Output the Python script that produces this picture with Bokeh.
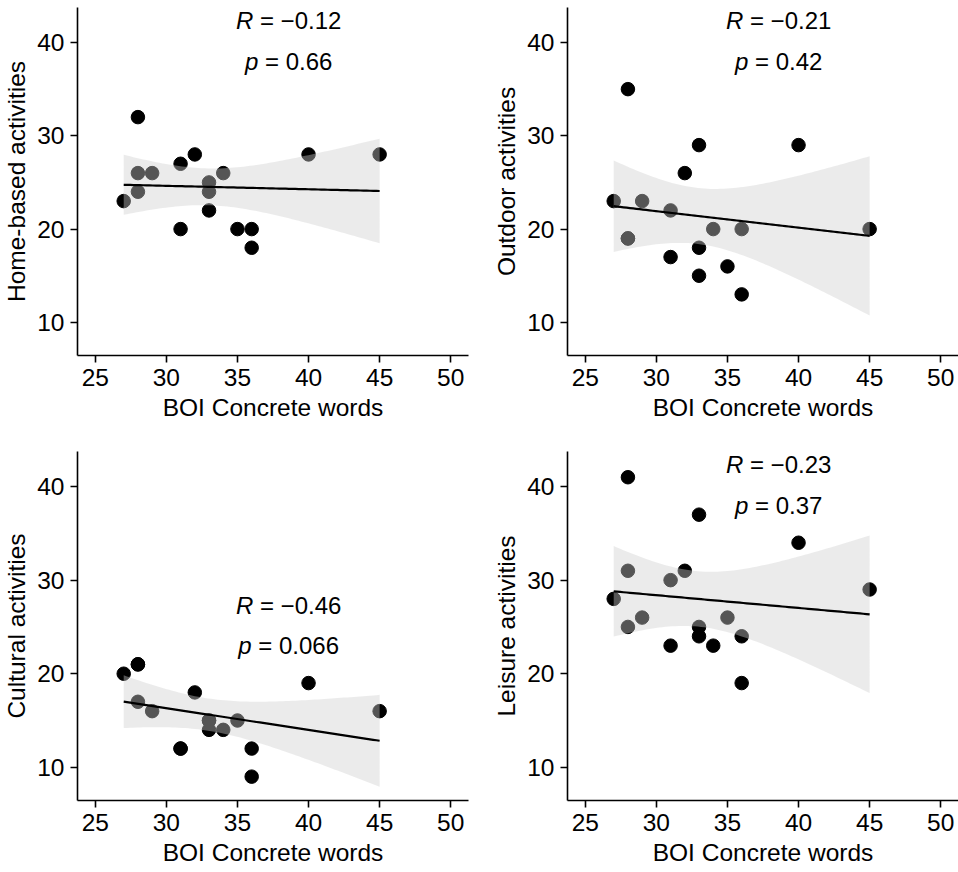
import numpy as np
from bokeh.plotting import figure
from bokeh.layouts import gridplot
from bokeh.models import Range1d, FixedTicker
from bokeh.core.properties import value
from bokeh.embed import file_html
from bokeh.resources import INLINE

# BOI concrete-word score of each participant (shared x for all panels)
boi_concrete = [27, 28, 28, 28, 29, 31, 31, 32, 33, 33, 33, 34, 35, 36, 36, 40, 45]

# Activity scores per participant
home_based = [23, 32, 26, 24, 26, 27, 20, 28, 25, 24, 22, 26, 20, 20, 18, 28, 28]
outdoor = [23, 35, 19, 19, 23, 22, 17, 26, 29, 18, 15, 20, 16, 20, 13, 29, 20]
cultural = [20, 21, 21, 17, 16, 12, 12, 18, 15, 15, 14, 14, 15, 12, 9, 19, 16]
leisure = [28, 41, 31, 25, 26, 30, 23, 31, 37, 25, 24, 23, 26, 24, 19, 34, 29]

panel_titles = ["Home-based activities", "Outdoor activities",
                "Cultural activities", "Leisure activities"]
r_values = ["\u22120.12", "\u22120.21", "\u22120.46", "\u22120.23"]
p_values = ["0.66", "0.42", "0.066", "0.37"]

x_ticks = [25, 30, 35, 40, 45, 50]
y_ticks = [10, 20, 30, 40]

FONT = "Liberation Sans"
AXIS_FS = 24.5
STAT_FS = 24
NBSP = "\u00a0"
T_975_DF15 = 2.13145  # two-sided 95% t quantile, 15 degrees of freedom

# Arial advance widths (em) for the characters used in the stat labels
ADV = {"R": 0.722, "p": 0.556, " ": 0.278, NBSP: 0.278, "=": 0.584,
       "\u2212": 0.584, ".": 0.278}


def text_width(s):
    return sum(ADV.get(c, 0.556) for c in s) * STAT_FS


def fit_band(x, y, n=80):
    x = np.asarray(x, float)
    y = np.asarray(y, float)
    slope, intercept = np.polyfit(x, y, 1)
    xs = np.linspace(x.min(), x.max(), n)
    fitted = intercept + slope * xs
    resid = y - (intercept + slope * x)
    dof = len(x) - 2
    s = np.sqrt(np.sum(resid ** 2) / dof)
    se = s * np.sqrt(1 / len(x) + (xs - x.mean()) ** 2 / np.sum((x - x.mean()) ** 2))
    return xs, fitted, fitted - T_975_DF15 * se, fitted + T_975_DF15 * se


def stat_label(p, x, y, sym, rest):
    # italic symbol followed by the upright remainder, centred as a whole on x
    rest = NBSP + "=" + NBSP + rest
    w_sym = text_width(sym)
    w_all = w_sym + text_width(rest)
    split = -w_all / 2 + w_sym
    common = dict(text_font=value(FONT), text_font_size=f"{STAT_FS}px",
                  text_color="black", text_baseline="middle", x_offset=split)
    p.text(x=[x], y=[y], text=[sym], text_align="right",
           text_font_style="italic", **common)
    p.text(x=[x], y=[y], text=[rest], text_align="left", **common)


def make_panel(yvals, ylabel, r_txt, p_txt, label_y, left, right, top, bottom):
    p = figure(width=479, height=436, output_backend="svg", toolbar_location=None,
               x_range=Range1d(23.75, 51.25), y_range=Range1d(6.45, 43.75),
               min_border_left=left, min_border_right=right,
               min_border_top=top, min_border_bottom=bottom,
               background_fill_color="white", border_fill_color="white")
    p.outline_line_color = None
    p.grid.visible = False

    for ax in (p.xaxis[0], p.yaxis[0]):
        ax.axis_line_color = "black"
        ax.axis_line_width = 1.6
        ax.major_tick_line_color = "black"
        ax.major_tick_line_width = 1.6
        ax.major_tick_out = 7
        ax.major_tick_in = 0
        ax.minor_tick_line_color = None
        ax.major_label_text_font = FONT
        ax.major_label_text_font_size = f"{AXIS_FS}px"
        ax.major_label_text_color = "black"
        ax.axis_label_text_font = FONT
        ax.axis_label_text_font_size = f"{AXIS_FS}px"
        ax.axis_label_text_font_style = "normal"
        ax.axis_label_text_color = "black"

    p.xaxis.ticker = FixedTicker(ticks=x_ticks)
    p.yaxis.ticker = FixedTicker(ticks=y_ticks)
    p.xaxis.axis_label = "BOI Concrete words"
    p.yaxis.axis_label = ylabel
    p.xaxis.major_label_standoff = 6
    p.xaxis.axis_label_standoff = 5
    p.yaxis.major_label_standoff = 6
    p.yaxis.axis_label_standoff = 4

    # points first, the translucent confidence band then shades the covered ones
    p.scatter(boi_concrete, yvals, size=13.5, color="black")
    xs, fitted, lo, hi = fit_band(boi_concrete, yvals)
    p.varea(x=xs, y1=lo, y2=hi, fill_color="#cfcfcf", fill_alpha=0.41)
    p.line(xs, fitted, line_color="black", line_width=2.2)

    stat_label(p, 38.6, label_y[0], "R", r_txt)
    stat_label(p, 38.6, label_y[1], "p", p_txt)
    return p


series = [home_based, outdoor, cultural, leisure]
label_pos = [(42.35, 37.95), (42.35, 37.95), (27.3, 23.0), (42.35, 37.95)]
borders = [(76, 11, 7, 81), (88, 0, 7, 81), (76, 11, 15, 72), (88, 0, 15, 72)]

panels = [make_panel(series[i], panel_titles[i], r_values[i], p_values[i],
                     label_pos[i], *borders[i]) for i in range(4)]

grid = gridplot([[panels[0], panels[1]], [panels[2], panels[3]]],
                toolbar_location=None)

open("out.html", "w").write(file_html(grid, INLINE))
